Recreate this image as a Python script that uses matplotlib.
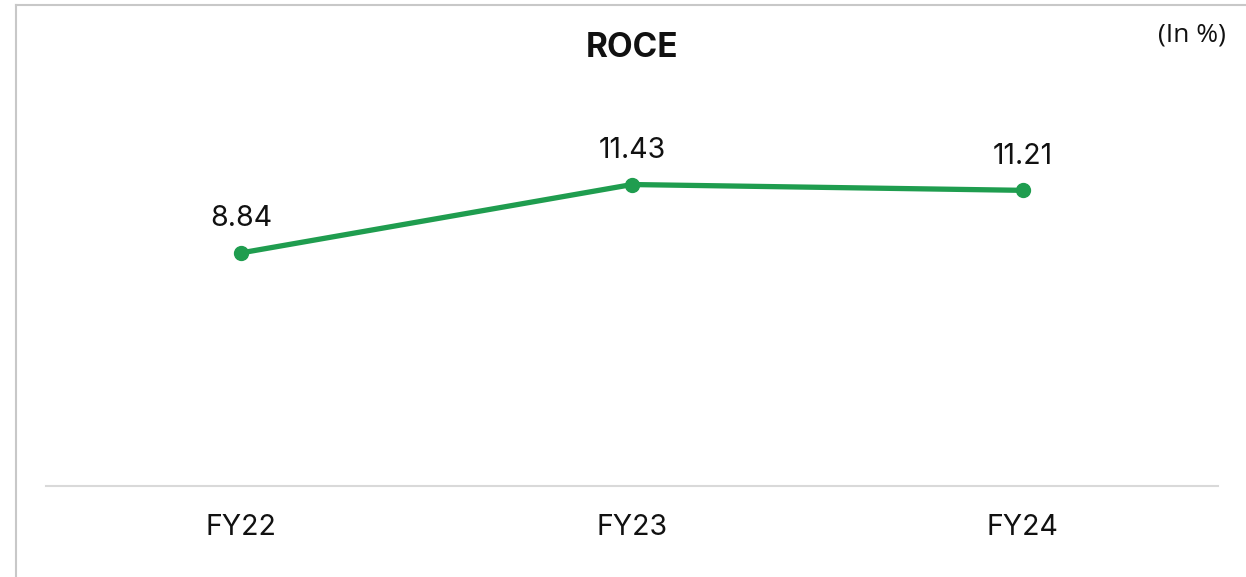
import matplotlib
matplotlib.use("Agg")
import matplotlib.pyplot as plt
from matplotlib.lines import Line2D

categories = ["FY22", "FY23", "FY24"]
roce = [8.84, 11.43, 11.21]
value_labels = ["8.84", "11.43", "11.21"]

GREEN = "#1f9d4f"
fig = plt.figure(figsize=(12.46, 5.77), dpi=100)
W, H = 1246, 577
ax = fig.add_axes([46 / W, 1 - 486 / H, (1218 - 46) / W, (486 - 64) / H])

x = list(range(len(categories)))
ax.plot(x, roce, color=GREEN, lw=3.8, marker="o", markersize=10, solid_capstyle="round")
for xi, v, lab in zip(x, roce, value_labels):
    ax.annotate(lab, (xi, v), xytext=(0, 15), textcoords="offset points",
                ha="center", va="bottom", fontsize=20.5, family="Inter", color="#111111")

ax.set_xlim(-0.5, 2.5)
ax.set_ylim(0, 16)
ax.set_xticks(x)
ax.set_xticklabels(categories, fontsize=20.5, family="Inter", color="#111111")
ax.tick_params(axis="x", length=0, pad=20)
ax.set_yticks([])
for s in ["top", "left", "right"]:
    ax.spines[s].set_visible(False)
ax.spines["bottom"].set_color("#d9d9d9")
ax.spines["bottom"].set_linewidth(1.5)

fig.text(632 / W, 1 - 48 / H, "ROCE", ha="center", va="center", fontsize=24,
         fontweight="bold", family="Inter", color="#111111")
fig.text(1192 / W, 1 - 35 / H, "(In %)", ha="center", va="center", fontsize=19,
         family="Open Sans", color="#111111")

# outer frame (top and left visible)
fig.add_artist(Line2D([16 / W, 1], [1 - 4.5 / H, 1 - 4.5 / H], transform=fig.transFigure,
                      color="#c8c8c8", lw=1.5))
fig.add_artist(Line2D([16 / W, 16 / W], [0, 1 - 4.5 / H], transform=fig.transFigure,
                      color="#c8c8c8", lw=1.5))

fig.savefig("out.png", dpi=100)
